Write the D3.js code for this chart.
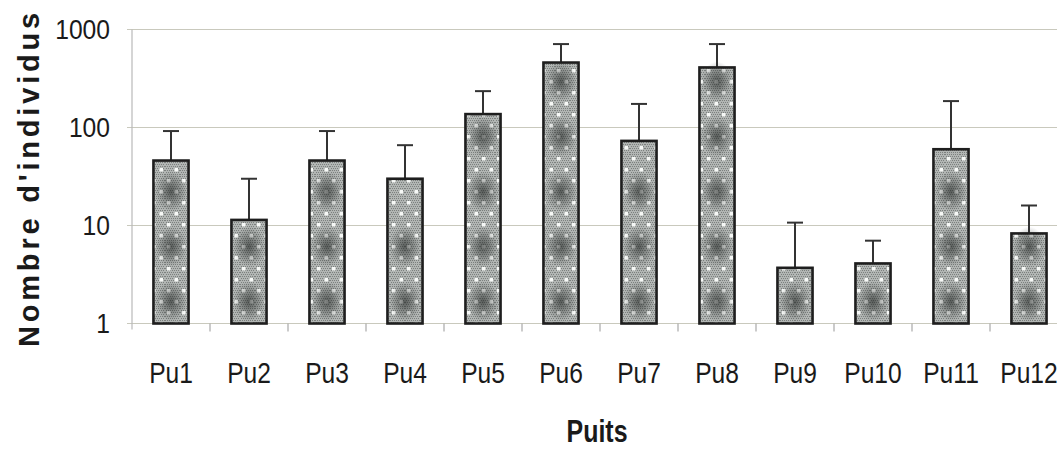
<!DOCTYPE html>
<html>
<head>
<meta charset="utf-8">
<script src="https://cdn.jsdelivr.net/npm/d3@7/dist/d3.min.js"></script>
<style>
  html, body { margin: 0; padding: 0; background: #fff; }
  svg { display: block; }
  text { font-family: "Liberation Sans", Arial, sans-serif; fill: #1a1a1a; }
</style>
</head>
<body>
<svg id="chart" width="1057" height="450"></svg>
<script>
// Wells and mean counts (log scale), with the upper error value for each
const categories = ["Pu1", "Pu2", "Pu3", "Pu4", "Pu5", "Pu6", "Pu7", "Pu8", "Pu9", "Pu10", "Pu11", "Pu12"];
const means      = [46, 11.4, 46, 30, 137, 460, 73, 410, 3.7, 4.1, 60, 8.3];
const upper      = [92, 30, 92, 66, 235, 710, 174, 710, 10.7, 7, 186, 16];
const yTicks     = [1, 10, 100, 1000];

const svg = d3.select("#chart");
const plotL = 132, plotR = 1068, plotT = 29.5, plotB = 323.5;

const x = d3.scaleBand().domain(categories).range([plotL, plotR]).padding(0);
const y = d3.scaleLog().domain([1, 1000]).range([plotB, plotT]);
const barW = x.bandwidth() * 0.45;

// Stippled grey fill for the bars: fine dark dither plus staggered white dots
const defs = svg.append("defs");
const pat = defs.append("pattern")
  .attr("id", "stipple").attr("patternUnits", "userSpaceOnUse")
  .attr("width", 15).attr("height", 22);
pat.append("rect").attr("width", 15).attr("height", 22).attr("fill", "#b2b6b4");
for (let i = 0; i < 15; i += 2) {
  for (let j = 0; j < 22; j += 2) {
    pat.append("rect").attr("x", i + ((j / 2) % 2)).attr("y", j)
      .attr("width", 1).attr("height", 1).attr("fill", "#7c807e");
  }
}
pat.append("rect").attr("x", 2).attr("y", 3).attr("width", 3.5).attr("height", 3.5).attr("fill", "#f6f8f6");
pat.append("rect").attr("x", 9.5).attr("y", 14).attr("width", 3.5).attr("height", 3.5).attr("fill", "#f6f8f6");

const blot = defs.append("radialGradient").attr("id", "blot");
blot.append("stop").attr("offset", "0%").attr("stop-color", "#1c201e").attr("stop-opacity", 0.6);
blot.append("stop").attr("offset", "100%").attr("stop-color", "#1c201e").attr("stop-opacity", 0);

// Horizontal gridlines at each decade
svg.append("g").selectAll("line").data(yTicks).join("line")
  .attr("x1", plotL - 5).attr("x2", plotR)
  .attr("y1", d => y(d)).attr("y2", d => y(d))
  .attr("stroke", "#c9c9bd").attr("stroke-width", 1.2);

// Left axis line
svg.append("line").attr("x1", plotL).attr("x2", plotL)
  .attr("y1", plotT).attr("y2", plotB + 6)
  .attr("stroke", "#b9b9b9").attr("stroke-width", 1.2);

// Category separator ticks under the baseline
svg.append("g").selectAll("line").data(categories.slice(1)).join("line")
  .attr("x1", d => x(d)).attr("x2", d => x(d))
  .attr("y1", plotB).attr("y2", plotB + 8)
  .attr("stroke", "#a8a8a8").attr("stroke-width", 1.2);

// Y tick labels
svg.append("g").selectAll("text").data(yTicks).join("text")
  .attr("transform", d => `translate(110,${y(d) + 9.5}) scale(0.88,1)`)
  .attr("text-anchor", "end")
  .attr("font-size", 28)
  .text(d => d);

// Error bars (upper side only)
const err = svg.append("g");
categories.forEach((c, i) => {
  const cx = x(c) + x.bandwidth() / 2;
  err.append("line").attr("x1", cx).attr("x2", cx)
    .attr("y1", y(means[i])).attr("y2", y(upper[i]))
    .attr("stroke", "#333").attr("stroke-width", 2);
  err.append("line").attr("x1", cx - 8).attr("x2", cx + 8)
    .attr("y1", y(upper[i])).attr("y2", y(upper[i]))
    .attr("stroke", "#333").attr("stroke-width", 2);
});

// Bars
const bars = svg.append("g");
categories.forEach((c, i) => {
  const bx = x(c) + (x.bandwidth() - barW) / 2;
  const by = y(means[i]);
  const bh = y(1) - by;
  bars.append("rect").attr("x", bx).attr("y", by).attr("width", barW).attr("height", bh)
    .attr("fill", "url(#stipple)");
  // darker mottling in the fill
  for (let k = 0; by + bh - 25 - k * 55 > by + 10; k++) {
    bars.append("ellipse")
      .attr("cx", bx + barW / 2).attr("cy", by + bh - 22 - k * 55)
      .attr("rx", barW * 0.45).attr("ry", 20)
      .attr("fill", "url(#blot)");
  }
  bars.append("rect").attr("x", bx).attr("y", by).attr("width", barW).attr("height", bh)
    .attr("fill", "none").attr("stroke", "#1e1e1e").attr("stroke-width", 2.6);
});

// Category labels
svg.append("g").selectAll("text").data(categories).join("text")
  .attr("transform", d => `translate(${x(d) + x.bandwidth() / 2},383) scale(0.82,1)`)
  .attr("text-anchor", "middle")
  .attr("font-size", 30)
  .text(d => d);

// Axis titles
svg.append("text")
  .attr("transform", "translate(597,442) scale(0.78,1)")
  .attr("text-anchor", "middle")
  .attr("font-size", 32).attr("font-weight", "bold")
  .text("Puits");

svg.append("text")
  .attr("transform", "translate(39,178) rotate(-90)")
  .attr("text-anchor", "middle")
  .attr("font-size", 29).attr("font-weight", "bold")
  .attr("letter-spacing", 3.8)
  .text("Nombre d'individus");
</script>
</body>
</html>
